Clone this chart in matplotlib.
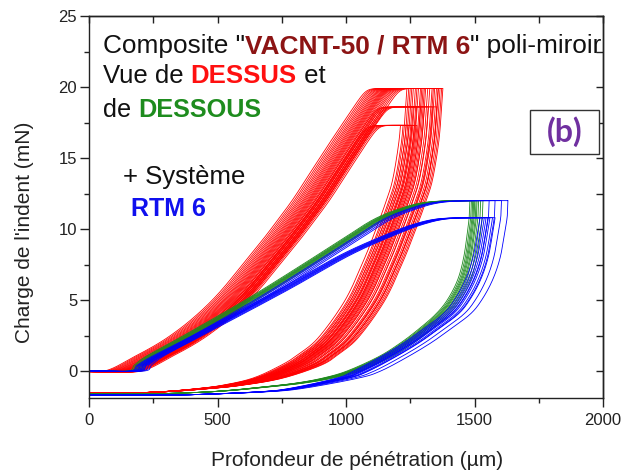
import numpy as np
import matplotlib
matplotlib.use('Agg')
import matplotlib.pyplot as plt
from matplotlib.patches import Rectangle
from matplotlib.ticker import MultipleLocator, NullFormatter

plt.rcParams['font.family'] = ['Liberation Sans', 'DejaVu Sans']

# ---------------- data ----------------
# base loading curves: depth (µm) -> load (mN)
RED_LOAD_X = [0, 130, 245, 345, 425, 492, 550, 600, 645, 690, 735, 778, 860, 932, 1004, 1078, 1115, 1152, 1190, 1265]
RED_LOAD_Y = [0, 0, 1, 2, 3, 4, 5, 6, 7, 8, 9, 10, 12, 14, 16, 18, 19, 20, 21, 23]
GRN_LOAD_X = [0, 170, 200, 250, 400, 630, 800, 1000, 1132, 1250, 1350, 1450, 1550]
GRN_LOAD_Y = [0, 0, 0.45, 1.1, 2.6, 5.0, 6.9, 9.2, 10.7, 11.55, 12.05, 12.4, 12.7]
BLU_LOAD_X = [0, 175, 205, 260, 400, 743, 1000, 1200, 1300, 1400, 1500]
BLU_LOAD_Y = [0, 0, 0.4, 1.0, 2.3, 5.6, 8.2, 9.8, 10.45, 10.95, 11.3]

# base unloading curves: load (mN, decreasing) -> depth (µm), with spread weight
RED_UNL_Y = [19.9, 18.0, 16.0, 13.5, 12.0, 10.0, 7.8, 5.0, 2.4, 1.2, 0.4, -0.5, -1.0, -1.25, -1.45, -1.55, -1.55]
RED_UNL_X = [1305, 1298, 1288, 1265, 1240, 1200, 1152, 1080, 978, 900, 830, 700, 561, 440, 300, 150, 0]
RED_UNL_W = [1, 1, 1, 1, 1, 1, 1, 1, 1, 1, 1, 0.75, 0.5, 0.3, 0.15, 0.05, 0]
GRN_UNL_Y = [12, 11, 10, 8, 6.4, 5, 4, 3, 2, 1, 0, -0.5, -0.85, -1.1, -1.35, -1.5, -1.6, -1.6]
GRN_UNL_X = [1508, 1506, 1500, 1484, 1460, 1420, 1375, 1312, 1240, 1152, 1030, 930, 821, 700, 560, 432, 250, 0]
GRN_UNL_W = [1, 1, 1, 1, 1, 1, 1, 1, 1, 1, 1, 0.8, 0.6, 0.45, 0.3, 0.15, 0, 0]
BLU_UNL_Y = [12, 11, 10, 8, 6.4, 5, 4, 2.9, 2, 1, 0, -0.5, -1.2, -1.45, -1.65, -1.7, -1.7]
BLU_UNL_X = [1590, 1588, 1580, 1560, 1530, 1488, 1443, 1362, 1292, 1200, 1095, 1016, 821, 692, 432, 250, 0]
BLU_UNL_W = [1, 1, 1, 1, 1, 1, 1, 1, 1, 1, 1, 0.8, 0.5, 0.3, 0.1, 0, 0]

# individual indents: loading shift (µm), max load (mN), max depth (µm)
RED_SHIFT = [-70, -62, -55, -48, -42, -36, -30, -25, -20, -15, -10, -6, -2, 2, 6, 10, 15, 20, 26, 32, 38, 45, 52, 60,
             20, 28, 36, 44, 50, 56, 62,
             30, 38, 46, 54, 62, 68, 75]
RED_PMAX = [19.9] * 24 + [18.6] * 7 + [17.3] * 7
RED_HMAX = [1237, 1250, 1244, 1262, 1256, 1270, 1282, 1276, 1290, 1300, 1295, 1310, 1318, 1305, 1326, 1335, 1345,
            1340, 1352, 1360, 1366, 1372, 1377, 1358,
            1262, 1275, 1290, 1305, 1320, 1338, 1354,
            1212, 1222, 1234, 1245, 1256, 1266, 1276]
GRN_SHIFT = [-22, -16, -11, -7, -3, 1, 5, 10, 15, 21]
GRN_PMAX = [12.0] * 10
GRN_HMAX = [1482, 1488, 1493, 1497, 1501, 1506, 1510, 1516, 1524, 1533]
BLU_SHIFT = [-18, -12, -6, -2, 3, 8, 14, 20]
BLU_PMAX = [10.8] * 8
BLU_HMAX = [1521, 1530, 1538, 1545, 1552, 1560, 1570, 1580]
BLU2_SHIFT = [15, 25, 35, 45]          # blue indents following the upper track
BLU2_PMAX = [12.0] * 4
BLU2_HMAX = [1557, 1580, 1605, 1630]

X_TICKS = [0, 500, 1000, 1500, 2000]
Y_TICKS = [0, 5, 10, 15, 20, 25]

RED = '#ff0000'
GREEN = '#1f8a1f'
BLUE = '#0000ff'


def densify(cols, n=16):
    P = np.column_stack(cols).astype(float)
    P = np.vstack([2 * P[0] - P[1], P, 2 * P[-1] - P[-2]])
    t = np.linspace(0, 1, n, endpoint=False)[:, None]
    out = []
    for i in range(1, len(P) - 2):
        p0, p1, p2, p3 = P[i - 1], P[i], P[i + 1], P[i + 2]
        seg = 0.5 * (2 * p1 + (-p0 + p2) * t + (2 * p0 - 5 * p1 + 4 * p2 - p3) * t ** 2
                     + (-p0 + 3 * p1 - 3 * p2 + p3) * t ** 3)
        out.append(seg)
    out.append(P[-2][None, :])
    return np.vstack(out)


def softmin(a, b, k):
    m = np.minimum(a, b)
    return m - k * np.log(np.exp(-(a - m) / k) + np.exp(-(b - m) / k))


def draw_set(ax, load_x, load_y, unl_x, unl_y, unl_w, shifts, pmaxs, hmaxs, color, k, lw=0.6):
    L = densify([load_x, load_y])
    bx = np.maximum.accumulate(L[:, 0])
    by = L[:, 1]
    U = densify([unl_x, unl_y, unl_w])
    ux, uy, uw = U[:, 0], U[:, 1], U[:, 2]
    for s, P, hm in zip(shifts, pmaxs, hmaxs):
        x = np.linspace(0, hm, 500)
        yl = np.interp(x, bx + s, by)
        y = softmin(yl, P, k)
        order = np.argsort(uy)
        x_top = np.interp(P, uy[order], ux[order])
        w_top = np.interp(P, uy[order], uw[order])
        d = hm - x_top
        mask = uy < P
        xu = np.concatenate([[x_top], ux[mask]]) + d * np.concatenate([[w_top], uw[mask]])
        yu = np.concatenate([[P], uy[mask]])
        ax.plot(np.concatenate([x, xu]), np.concatenate([y, yu]), color=color, lw=lw,
                solid_joinstyle='round')


W, H = 630, 475
fig = plt.figure(figsize=(6.3, 4.75), dpi=100)
fig.patch.set_facecolor('white')
ax = fig.add_axes([89 / W, 1 - 398 / H, (603 - 89) / W, (398 - 16) / H])

draw_set(ax, RED_LOAD_X, RED_LOAD_Y, RED_UNL_X, RED_UNL_Y, RED_UNL_W,
         RED_SHIFT, RED_PMAX, RED_HMAX, RED, 0.3)
draw_set(ax, GRN_LOAD_X, GRN_LOAD_Y, GRN_UNL_X, GRN_UNL_Y, GRN_UNL_W,
         GRN_SHIFT, GRN_PMAX, GRN_HMAX, GREEN, 0.15)
draw_set(ax, BLU_LOAD_X, BLU_LOAD_Y, BLU_UNL_X, BLU_UNL_Y, BLU_UNL_W,
         BLU_SHIFT, BLU_PMAX, BLU_HMAX, BLUE, 0.15)
draw_set(ax, GRN_LOAD_X, GRN_LOAD_Y, BLU_UNL_X, BLU_UNL_Y, BLU_UNL_W,
         BLU2_SHIFT, BLU2_PMAX, BLU2_HMAX, BLUE, 0.15)

ax.set_xlim(0, 2000)
ax.set_ylim(-1.9, 25)
ax.set_xticks(X_TICKS)
ax.set_yticks(Y_TICKS)
ax.xaxis.set_minor_locator(MultipleLocator(250))
ax.yaxis.set_minor_locator(MultipleLocator(2.5))
ax.tick_params(which='major', direction='out', length=6.5, width=1.0, labelsize=12,
               colors='#222222')
ax.tick_params(axis='x', which='major', pad=4)
ax.tick_params(axis='y', which='major', pad=2)
ax.tick_params(which='minor', direction='out', length=3.5, width=1.0, colors='#222222')
for sp in ax.spines.values():
    sp.set_linewidth(1.0)
    sp.set_color('#222222')

secx = ax.secondary_xaxis('top')
secx.set_xticks(X_TICKS)
secx.xaxis.set_minor_locator(MultipleLocator(250))
secx.xaxis.set_major_formatter(NullFormatter())
secx.tick_params(which='both', direction='in', length=5, width=1.0, colors='#222222')
secx.spines['top'].set_linewidth(1.0)
secy = ax.secondary_yaxis('right')
secy.set_yticks(Y_TICKS)
secy.yaxis.set_minor_locator(MultipleLocator(2.5))
secy.yaxis.set_major_formatter(NullFormatter())
secy.tick_params(which='both', direction='in', length=5, width=1.0, colors='#222222')
secy.spines['right'].set_linewidth(1.0)

fig.text(357 / W, 1 - 461 / H, 'Profondeur de pénétration (µm)', ha='center', va='center',
         fontsize=15, color='#222222')
fig.text(25 / W, 1 - 232 / H, "Charge de l'indent (mN)", ha='center', va='center',
         rotation=90, fontsize=15, color='#222222')


def rich(x, y, parts, size):
    s, c, w = parts[0]
    prev = fig.text(x / W, 1 - y / H, s, color=c, fontweight=w, fontsize=size,
                    ha='left', va='baseline')
    for s, c, w in parts[1:]:
        prev = ax.annotate(s, xy=(1, 0), xycoords=prev, ha='left', va='bottom',
                           color=c, fontweight=w, fontsize=size)


BLACK = '#111111'
rich(103, 53, [('Composite "', BLACK, 'normal'), ('VACNT-50 / RTM 6', '#8c1414', 'bold'),
               ('" poli-miroir', BLACK, 'normal')], 18.9)
rich(103, 83, [('Vue de ', BLACK, 'normal'), ('DESSUS', '#ff1010', 'bold'),
               (' et', BLACK, 'normal')], 18.5)
rich(103, 117, [('de ', BLACK, 'normal'), ('DESSOUS', '#1e8c1e', 'bold')], 18.2)
fig.text(123 / W, 1 - 184 / H, '+ Système', color=BLACK, fontsize=18.5, ha='left', va='baseline')
fig.text(131 / W, 1 - 216 / H, 'RTM 6', color='#1010ee', fontsize=18, fontweight='bold',
         ha='left', va='baseline')

fig.add_artist(Rectangle((530 / W, 1 - 154 / H), 69 / W, 44 / H, transform=fig.transFigure,
                         facecolor='white', edgecolor='#333333', lw=1.0, zorder=5))
fig.text(564.5 / W, 1 - 132 / H, '(b)', color='#7030a0', fontsize=23, fontweight='bold',
         ha='center', va='center', family=['Lato', 'DejaVu Sans'], zorder=6)

fig.savefig('out.png', dpi=100, facecolor='white')
